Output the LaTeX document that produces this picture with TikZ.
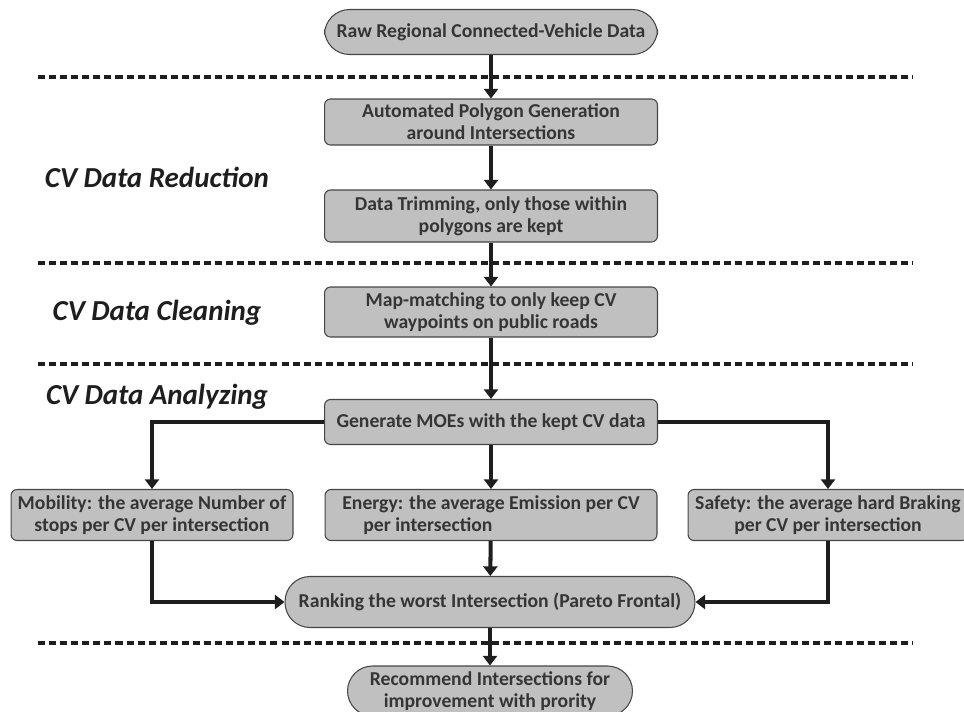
\documentclass[tikz,border=0pt]{standalone}
\usepackage{fontspec}
\setmainfont{Carlito}
\usepackage{tikz}
\usetikzlibrary{arrows.meta}
\usetikzlibrary{positioning}

\definecolor{boxgray}{RGB}{192,192,192}
\definecolor{edgegray}{RGB}{70,70,70}
\definecolor{inkblack}{RGB}{30,30,30}

\begin{document}
\begin{tikzpicture} [x=0.02cm, y=-0.02cm,
		stepbox/.style={rectangle,draw=edgegray,fill=boxgray,line width=0.6pt,rounded corners=0.12cm,
			align=center,font=\bfseries\fontsize{11.2}{12.4}\selectfont,text=inkblack!90,inner sep=1pt},
		endbox/.style={stepbox,rounded corners=0.5cm},
		flow/.style={draw=inkblack,line width=2.3pt,-{Triangle[length=5.5pt,width=8pt]}},
		divider/.style={draw=inkblack,line width=1.8pt,dash pattern=on 4pt off 2.3pt},
		phase/.style={font=\bfseries\itshape\fontsize{16.5}{19}\selectfont,text=inkblack}]
		
		\useasboundingbox (0,0) rectangle (964,711);
		
		% Stage dividers
		\foreach \yy in {77,263,364,643}
			\draw [divider] (38,\yy) -- (913,\yy);
		
		% Stage labels
		\node[phase] (redlab) at (157,177) {CV Data Reduction};
		\node[phase] (clnlab) at (157,313) {CV Data Cleaning};
		\node[phase] (anllab) at (157,397) {CV Data Analyzing};
		
		% Boxes
		\node[endbox, minimum width=6.66cm, minimum height=0.9cm] (raw) at (491,32) {Raw Regional Connected-Vehicle Data};
		\node[stepbox, minimum width=6.66cm, minimum height=0.92cm] (poly) at (491,122) {Automated Polygon Generation\\around Intersections};
		\node[stepbox, minimum width=6.66cm, minimum height=1.04cm] (trim) at (491,216) {Data Trimming, only those within\\polygons are kept};
		\node[stepbox, minimum width=6.66cm, minimum height=1.0cm] (mapm) at (491,312) {Map-matching to only keep CV\\waypoints on public roads};
		\node[stepbox, minimum width=6.66cm, minimum height=0.9cm] (moe) at (491,422) {Generate MOEs with the kept CV data};
		
		% MOE boxes
		\node[stepbox, minimum width=5.64cm, minimum height=1.02cm] (mob) at (152,515) {Mobility: the average Number of\\stops per CV per intersection};
		\node[stepbox, align=left, minimum width=6.64cm, minimum height=1.02cm] (ener) at (491,515) {Energy: the average Emission per CV\\\hspace*{12pt}per intersection};
		\node[stepbox, minimum width=5.6cm, minimum height=1.02cm] (safe) at (828,515) {Safety: the average hard Braking\\per CV per intersection};
		
		% Ranking and output
		\node[endbox, minimum width=8.2cm, minimum height=1.02cm] (rank) at (490,602) {Ranking the worst Intersection (Pareto Frontal)};
		\node[endbox, minimum width=5.7cm, minimum height=1.0cm] (recom) at (490,691) {Recommend Intersections for\\improvement with prority};
		
		% Arrows
		\draw[flow] (raw) -- (poly);
		\draw[flow] (poly) -- (trim);
		\draw[flow] (trim) -- (mapm);
		\draw[flow] (mapm) -- (moe);
		\draw[flow] (moe) -- (ener);
		\draw[flow] (moe.west) -| (mob.north);
		\draw[flow] (moe.east) -| (safe.north);
		\draw[flow] (ener) -- (rank);
		\draw[flow] (mob.south) |- (rank.west);
		\draw[flow] (safe.south) |- (rank.east);
		\draw[flow] (rank) -- (recom);
\end{tikzpicture}
\end{document}
